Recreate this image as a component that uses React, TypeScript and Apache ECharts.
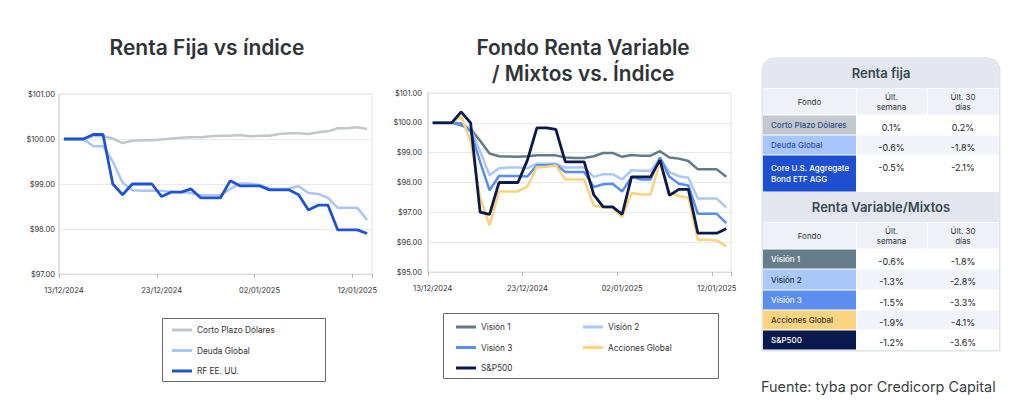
import React, { useEffect, useRef } from "react";
import * as echarts from "echarts";

const dates = [
  "13/12/2024", "14/12/2024", "15/12/2024", "16/12/2024", "17/12/2024", "18/12/2024", "19/12/2024", "20/12/2024",
  "21/12/2024", "22/12/2024", "23/12/2024", "24/12/2024", "25/12/2024", "26/12/2024", "27/12/2024", "28/12/2024",
  "29/12/2024", "30/12/2024", "31/12/2024", "01/01/2025", "02/01/2025", "03/01/2025", "04/01/2025", "05/01/2025",
  "06/01/2025", "07/01/2025", "08/01/2025", "09/01/2025", "10/01/2025", "11/01/2025", "12/01/2025", "13/01/2025",
];

// Renta fija
const cortoPlazo = [100.0, 100.0, 100.0, 100.06, 100.06, 100.01, 99.91, 99.96, 99.97, 99.97, 99.99, 100.01, 100.03, 100.04, 100.04, 100.06,
  100.07, 100.07, 100.09, 100.06, 100.07, 100.07, 100.11, 100.13, 100.13, 100.11, 100.15, 100.17, 100.24, 100.24, 100.26, 100.22];
const deudaGlobal = [100.0, 100.0, 100.0, 99.84, 99.84, 99.5, 99.03, 98.86, 98.85, 98.85, 98.85, 98.83, 98.82, 98.8, 98.75, 98.75,
  98.75, 98.89, 99.01, 99.01, 98.98, 98.9, 98.89, 98.9, 98.95, 98.8, 98.78, 98.69, 98.47, 98.47, 98.47, 98.2];
const rfUSA = [100.0, 100.0, 100.0, 100.1, 100.1, 99.0, 98.76, 99.0, 99.0, 99.0, 98.72, 98.82, 98.82, 98.89, 98.69, 98.69,
  98.69, 99.07, 98.96, 98.96, 98.96, 98.87, 98.87, 98.87, 98.76, 98.42, 98.53, 98.53, 97.98, 97.98, 97.98, 97.9];

// Renta variable / mixtos
const vision1 = [100, 100, 100, 99.92, 99.8, 99.4, 98.97, 98.88, 98.87, 98.86, 98.88, 98.91, 98.91, 98.91, 98.84, 98.82,
  98.82, 98.88, 98.99, 98.99, 98.86, 98.92, 98.9, 98.9, 99.05, 98.84, 98.8, 98.72, 98.44, 98.44, 98.44, 98.19];
const vision2 = [100, 100, 100, 99.98, 99.8, 99.05, 98.24, 98.48, 98.5, 98.5, 98.48, 98.63, 98.63, 98.63, 98.5, 98.5,
  98.5, 98.19, 98.28, 98.28, 98.1, 98.41, 98.39, 98.39, 98.8, 98.35, 98.21, 98.16, 97.46, 97.46, 97.46, 97.16];
const vision3 = [100, 100, 100, 99.98, 99.72, 98.69, 97.74, 98.22, 98.22, 98.22, 98.2, 98.58, 98.58, 98.6, 98.35, 98.35,
  98.35, 97.85, 97.94, 97.96, 97.7, 98.19, 98.1, 98.1, 98.84, 98.19, 97.96, 97.9, 96.95, 96.95, 96.95, 96.64];
const accionesGlobal = [100, 100, 100, 100.22, 99.38, 97.5, 96.56, 97.7, 97.7, 97.7, 97.87, 98.52, 98.52, 98.58, 98.1, 98.1,
  98.1, 97.23, 97.16, 97.16, 96.84, 97.65, 97.6, 97.6, 98.69, 97.68, 97.54, 97.49, 96.08, 96.08, 96.06, 95.86];
const sp500 = [100, 100, 100, 100.37, 100, 97.01, 96.93, 98.0, 98.0, 98.0, 98.75, 99.83, 99.83, 99.78, 98.69, 98.69,
  98.69, 97.59, 97.18, 97.18, 96.93, 98.19, 98.19, 98.19, 98.75, 97.57, 97.77, 97.77, 96.3, 96.3, 96.3, 96.45];

const leftNames = ["Corto Plazo Dólares", "Deuda Global", "RF EE. UU."];
const rightNames = ["Visión 1", "Visión 2", "Visión 3", "Acciones Global", "S&P500"];

const tableHeaders = ["Fondo", "Últ.\nsemana", "Últ. 30\ndías"];
const rentaFijaTitle = "Renta fija";
const rentaFijaFunds = ["Corto Plazo Dólares", "Deuda Global", "Core U.S. Aggregate\nBond ETF AGG"];
const rentaFijaWeek = ["0.1%", "-0.6%", "-0.5%"];
const rentaFijaMonth = ["0.2%", "-1.8%", "-2.1%"];
const rvTitle = "Renta Variable/Mixtos";
const rvFunds = ["Visión 1", "Visión 2", "Visión 3", "Acciones Global", "S&P500"];
const rvWeek = ["-0.6%", "-1.3%", "-1.5%", "-1.9%", "-1.2%"];
const rvMonth = ["-1.8%", "-2.8%", "-3.3%", "-4.1%", "-3.6%"];

const FONT = "Inter";

const leftColors = ["#c2c7cc", "#aac6f7", "#2053d2"];
const rightColors = ["#64798a", "#abc8f7", "#5b8def", "#fbd37d", "#0c1a4b"];

const rfCellFill = ["#c3cacf", "#a9c6fa", "#1e4fd0"];
const rfCellText = ["#2d4a8a", "#2850b8", "#ffffff"];
const rvCellFill = ["#677d8c", "#aac8fa", "#5c8eef", "#fcd37e", "#0b1a4e"];
const rvCellText = ["#ffffff", "#1f3354", "#eef3ff", "#3b3b3b", "#ffffff"];

function buildTable(): any[] {
  const els: any[] = [];
  const cx = [763, 856, 927, 999];
  els.push({ type: "rect", shape: { x: 762, y: 58, width: 238, height: 293, r: [12, 12, 0, 0] }, style: { fill: "#e4e7ef", stroke: "#dde1e9", lineWidth: 1 } });

  const section = (top: number, title: string, funds: string[], week: string[], month: string[], fills: string[], texts: string[], rowH: number[]) => {
    els.push({ type: "text", x: 881, y: top + 15, style: { text: title, font: `600 13px ${FONT}`, fill: "#364a52", textAlign: "center", textVerticalAlign: "middle" } });
    const hTop = top + 30;
    const hH = 27;
    els.push({ type: "rect", shape: { x: 763, y: hTop, width: 236, height: hH }, style: { fill: "#ffffff" } });
    for (let c = 0; c < 3; c++) {
      els.push({ type: "rect", shape: { x: cx[c] + (c ? 1 : 0), y: hTop + 0.5, width: cx[c + 1] - cx[c] - (c ? 1 : 0), height: hH - 1 }, style: { fill: "#eef2f8" } });
      els.push({ type: "text", x: (cx[c] + cx[c + 1]) / 2, y: hTop + hH / 2 + 0.5, style: { text: tableHeaders[c], font: `400 8px ${FONT}`, fill: "#333", textAlign: "center", textVerticalAlign: "middle", lineHeight: 10 } });
    }
    let y = hTop + hH;
    for (let r = 0; r < funds.length; r++) {
      const h = rowH[r];
      els.push({ type: "rect", shape: { x: 763, y, width: 236, height: h }, style: { fill: "#ffffff" } });
      els.push({ type: "rect", shape: { x: 763, y: y + 0.5, width: cx[1] - 763, height: h - 1 }, style: { fill: fills[r] } });
      const valFill = r % 2 === 1 ? "#f1f4f9" : "#ffffff";
      els.push({ type: "rect", shape: { x: cx[1] + 1, y: y + 0.5, width: cx[3] - cx[1] - 1, height: h - 1 }, style: { fill: valFill } });
      els.push({ type: "text", x: 771, y: y + h / 2, style: { text: funds[r], font: `500 8px ${FONT}`, fill: texts[r], textAlign: "left", textVerticalAlign: "middle", lineHeight: 11 } });
      const vy = h > 25 ? y + 12.5 : y + h / 2 + 2;
      els.push({ type: "text", x: (cx[1] + cx[2]) / 2, y: vy, style: { text: week[r], font: `400 9px ${FONT}`, fill: "#222", textAlign: "center", textVerticalAlign: "middle" } });
      els.push({ type: "text", x: (cx[2] + cx[3]) / 2, y: vy, style: { text: month[r], font: `400 9px ${FONT}`, fill: "#222", textAlign: "center", textVerticalAlign: "middle" } });
      y += h;
    }
    return y;
  };
  section(58, rentaFijaTitle, rentaFijaFunds, rentaFijaWeek, rentaFijaMonth, rfCellFill, rfCellText, [20, 20, 37]);
  section(192, rvTitle, rvFunds, rvWeek, rvMonth, rvCellFill, rvCellText, [20, 21, 20, 20, 20]);
  return els;
}

function axisPair(grid: number, min: number, max: number, labelMargin: number) {
  const x = {
    type: "category", gridIndex: grid, data: dates, boundaryGap: true,
    axisLine: { show: true, lineStyle: { color: "#dadada", width: 1 } },
    axisTick: { show: true, interval: 9, length: 4, lineStyle: { color: "#b5b5b5" } },
    axisLabel: { interval: 9, fontSize: 7.5, color: "#333", margin: 12, fontFamily: FONT },
    splitLine: { show: false },
  };
  const y = {
    type: "value", gridIndex: grid, min, max, interval: 1,
    axisLine: { show: true, lineStyle: { color: "#dadada", width: 1.5 } },
    axisTick: { show: false },
    axisLabel: { formatter: (v: number) => "$" + v.toFixed(2), fontSize: 7.5, color: "#333", margin: labelMargin, fontFamily: FONT },
    splitLine: { show: true, lineStyle: { color: "#e9e9e9", width: 1 } },
  };
  return { x, y };
}

export default function App() {
  const ref = useRef<HTMLDivElement>(null);
  useEffect(() => {
    const chart = echarts.init(ref.current!, null, { renderer: "svg" });
    const a0 = axisPair(0, 97, 101, 4);
    const a1 = axisPair(1, 95, 101, 6);
    const leftData = [cortoPlazo, deudaGlobal, rfUSA];
    const rightData = [vision1, vision2, vision3, accionesGlobal, sp500];
    const series: any[] = [];
    leftNames.forEach((n, i) => series.push({
      name: n, type: "line", xAxisIndex: 0, yAxisIndex: 0, data: leftData[i], symbol: "none", color: leftColors[i],
      lineStyle: { color: leftColors[i], width: i === 2 ? 2.8 : 2.5 },
    }));
    rightNames.forEach((n, i) => series.push({
      name: n, type: "line", xAxisIndex: 1, yAxisIndex: 1, data: rightData[i], symbol: "none", color: rightColors[i],
      lineStyle: { color: rightColors[i], width: i === 4 ? 2.8 : 2.5 },
    }));
    const legendBase = {
      orient: "vertical", icon: "rect", itemWidth: 20, itemHeight: 3, itemGap: 8.5, padding: 0,
      textStyle: { fontSize: 8.3, color: "#333", fontFamily: FONT, lineHeight: 12 },
    };
    chart.setOption({
      animation: false,
      textStyle: { fontFamily: FONT },
      grid: [
        { left: 59, top: 94, width: 313, height: 180, show: true, borderColor: "#e2e2e2", borderWidth: 1 },
        { left: 428, top: 93, width: 303, height: 179, show: true, borderColor: "#e2e2e2", borderWidth: 1 },
      ],
      xAxis: [a0.x, a1.x],
      yAxis: [a0.y, a1.y],
      legend: [
        { ...legendBase, data: leftNames, left: 172, top: 324 },
        { ...legendBase, data: ["Visión 1", "Visión 3", "S&P500"], left: 456, top: 321 },
        { ...legendBase, data: ["Visión 2", "Acciones Global"], left: 583, top: 321 },
      ],
      series,
      graphic: [
        { type: "text", x: 207, y: 47, style: { text: "Renta Fija vs índice", font: `600 21px ${FONT}`, fill: "#2f3438", textAlign: "center", textVerticalAlign: "middle" } },
        { type: "text", x: 583, y: 60, style: { text: "Fondo Renta Variable\n/ Mixtos vs. Índice", font: `600 20.8px ${FONT}`, fill: "#2f3438", textAlign: "center", textVerticalAlign: "middle", lineHeight: 26 } },
        { type: "rect", shape: { x: 162.5, y: 318.5, width: 163, height: 63 }, style: { fill: "none", stroke: "#6a6a6a", lineWidth: 1 } },
        { type: "rect", shape: { x: 443.5, y: 313.5, width: 275, height: 65 }, style: { fill: "none", stroke: "#6a6a6a", lineWidth: 1 } },
        ...buildTable(),
        { type: "text", x: 761, y: 386, style: { text: "Fuente: tyba por Credicorp Capital", font: `400 14.4px ${FONT}`, fill: "#3a3f44", textAlign: "left", textVerticalAlign: "middle" } },
      ],
    });
    return () => chart.dispose();
  }, []);
  return <div ref={ref} style={{ position: "absolute", left: 0, top: 0, width: 1024, height: 410, background: "#fff" }} />;
}
